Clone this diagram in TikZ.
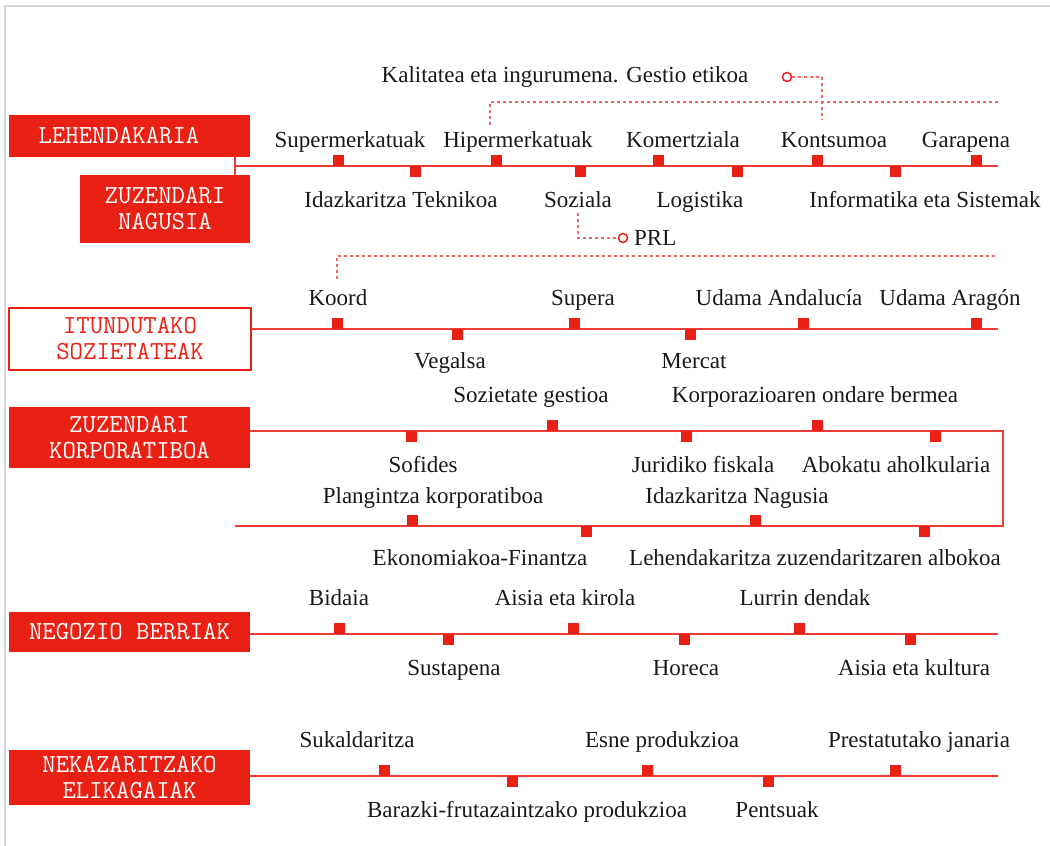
\documentclass[tikz,border=0pt]{standalone}
\usepackage{fontspec}
\newfontfamily\lblfont{Liberation Serif}
\newcommand\boxfont{\ttfamily\fontsize{26}{26}\selectfont}
\definecolor{bred}{RGB}{234,32,20}
\definecolor{bline}{RGB}{240,60,55}
\definecolor{bpink}{RGB}{245,100,100}
\definecolor{bgray}{RGB}{210,214,214}
\tikzset{
  redline/.style={draw=bline, line width=2pt},
  sqtop/.style={fill=bred, minimum width=11pt, minimum height=11pt, inner sep=0pt, anchor=south},
  sqbot/.style={fill=bred, minimum width=11pt, minimum height=11pt, inner sep=0pt, anchor=north},
  lbl/.style={font=\lblfont\fontsize{23}{26}\selectfont, anchor=base, inner sep=0pt, text=black!90},
  boxfill/.style={fill=bred, text=white, font=\boxfont, align=center, inner sep=0pt},
  boxline/.style={draw=bred, line width=1.6pt, fill=white, text=bred, font=\boxfont, align=center, inner sep=0pt},
  dots/.style={draw=bpink, line width=1.6pt, dash pattern=on 3pt off 3pt},
  ring/.style={circle, draw=bred, fill=white, line width=1.5pt, minimum size=9pt, inner sep=0pt},
}
\begin{document}
\begin{tikzpicture}[x=1pt,y=-1pt]
\useasboundingbox (0,0) rectangle (1050,846);
% frame
\draw[bgray, line width=2pt] (5,846) -- (5,6) -- (1050,6);

% ---------------- Row 1
\node[boxfill, minimum width=241pt, minimum height=42pt] (lehen) at (129.5,136) {};
\node[text=white, font=\boxfont, inner sep=0pt] (lehent) at (119,136) {LEHENDAKARIA};
\node[boxfill, minimum width=170pt, minimum height=68pt] (zn) at (165,209) {ZUZENDARI\\NAGUSIA};
\coordinate (j1) at (235,166);
\coordinate (e1) at (998,166);
\draw[redline] (j1 |- lehen.south) -- (j1 |- zn.north);
\draw[redline] (j1) -- (e1);

\node[sqtop] (m1a) at (338,166) {};
\node[sqtop] (m1b) at (496,166) {};
\node[sqtop] (m1c) at (658,166) {};
\node[sqtop] (m1d) at (817,166) {};
\node[sqtop] (m1e) at (976,166) {};
\node[sqbot] (m1f) at (415,166) {};
\node[sqbot] (m1g) at (580,166) {};
\node[sqbot] (m1h) at (737,166) {};
\node[sqbot] (m1i) at (895,166) {};

\node[lbl] (l1a) at (350,147) {Supermerkatuak};
\node[lbl] (l1b) at (518,147) {Hipermerkatuak};
\node[lbl] (l1c) at (683,147) {Komertziala};
\node[lbl] (l1d) at (834,147) {Kontsumoa};
\node[lbl] (l1e) at (966,147) {Garapena};
\node[lbl] (l1f) at (401,207) {Idazkaritza Teknikoa};
\node[lbl] (l1g) at (578,207) {Soziala};
\node[lbl] (l1h) at (700,207) {Logistika};
\node[lbl] (l1i) at (925,207) {Informatika eta Sistemak};

\node[lbl] (kal) at (565,82) {Kalitatea eta ingurumena. Gestio etikoa};
\node[ring] (kring) at (787,77) {};
\coordinate (kend) at (822,120);
\coordinate (d1s) at (490,125);
\coordinate (d1e) at (998,102);
\draw[dots] (d1s) |- (d1e);
\draw[dots] (kring.east) -| (kend);

\coordinate (ps) at (578,213);
\node[ring] (prlring) at (623,238) {};
\node[lbl, anchor=base west] (prl) at (634,245) {PRL};
\draw[dots] (ps) |- (prlring.west);

% ---------------- Row 2
\node[boxline, minimum width=242pt, minimum height=62pt] (itun) at (130,339) {ITUNDUTAKO\\SOZIETATEAK};
\coordinate (e2) at (998,329);
\draw[redline] (itun.east |- e2) -- (e2);
\coordinate (k1) at (337,279);
\coordinate (k2) at (998,256);
\draw[dots] (k1) |- (k2);

\node[sqtop] (m2a) at (337,329) {};
\node[sqtop] (m2b) at (574,329) {};
\node[sqtop] (m2c) at (803,329) {};
\node[sqtop] (m2d) at (976,329) {};
\node[sqbot] (m2e) at (457,329) {};
\node[sqbot] (m2f) at (690,329) {};

\node[lbl] (l2a) at (338,305) {Koord};
\node[lbl] (l2b) at (583,305) {Supera};
\node[lbl] (l2c) at (779,305) {Udama Andalucía};
\node[lbl] (l2d) at (950,305) {Udama Aragón};
\node[lbl] (l2e) at (450,368) {Vegalsa};
\node[lbl] (l2f) at (694,368) {Mercat};

% ---------------- Row 3
\node[boxfill, minimum width=241pt, minimum height=61pt] (zk) at (129.5,437.5) {ZUZENDARI\\KORPORATIBOA};
\coordinate (e3) at (1003,431);
\coordinate (c3) at (1003,526);
\coordinate (s3) at (235,526);
\draw[redline] (zk.east |- e3) -- (e3) -- (c3) -- (s3);

\node[sqtop] (m3a) at (552,431) {};
\node[sqtop] (m3b) at (817,431) {};
\node[sqbot] (m3c) at (411,431) {};
\node[sqbot] (m3d) at (686,431) {};
\node[sqbot] (m3e) at (935,431) {};
\node[sqtop] (m3f) at (412,526) {};
\node[sqtop] (m3g) at (755,526) {};
\node[sqbot] (m3h) at (586,526) {};
\node[sqbot] (m3i) at (924,526) {};

\node[lbl] (l3a) at (531,402) {Sozietate gestioa};
\node[lbl] (l3b) at (815,402) {Korporazioaren ondare bermea};
\node[lbl] (l3c) at (423,472) {Sofides};
\node[lbl] (l3d) at (703,472) {Juridiko fiskala};
\node[lbl] (l3e) at (896,472) {Abokatu aholkularia};
\node[lbl] (l3f) at (433,503) {Plangintza korporatiboa};
\node[lbl] (l3g) at (737,503) {Idazkaritza Nagusia};
\node[lbl] (l3h) at (480,565) {Ekonomiakoa-Finantza};
\node[lbl] (l3i) at (815,565) {Lehendakaritza zuzendaritzaren albokoa};

% ---------------- Row 4
\node[boxfill, minimum width=241pt, minimum height=40pt] (nb) at (129.5,632) {NEGOZIO BERRIAK};
\coordinate (e4) at (998,634);
\draw[redline] (nb.east |- e4) -- (e4);

\node[sqtop] (m4a) at (339,634) {};
\node[sqtop] (m4b) at (573,634) {};
\node[sqtop] (m4c) at (799,634) {};
\node[sqbot] (m4d) at (448,634) {};
\node[sqbot] (m4e) at (684,634) {};
\node[sqbot] (m4f) at (910,634) {};

\node[lbl] (l4a) at (339,605) {Bidaia};
\node[lbl] (l4b) at (565,605) {Aisia eta kirola};
\node[lbl] (l4c) at (805,605) {Lurrin dendak};
\node[lbl] (l4d) at (454,675) {Sustapena};
\node[lbl] (l4e) at (686,675) {Horeca};
\node[lbl] (l4f) at (914,675) {Aisia eta kultura};

% ---------------- Row 5
\node[boxfill, minimum width=241pt, minimum height=55pt] (nek) at (129.5,777.5) {NEKAZARITZAKO\\ELIKAGAIAK};
\coordinate (e5) at (998,776);
\draw[redline] (nek.east |- e5) -- (e5);

\node[sqtop] (m5a) at (384,776) {};
\node[sqtop] (m5b) at (647,776) {};
\node[sqtop] (m5c) at (895,776) {};
\node[sqbot] (m5d) at (512,776) {};
\node[sqbot] (m5e) at (768,776) {};

\node[lbl] (l5a) at (357,747) {Sukaldaritza};
\node[lbl] (l5b) at (662,747) {Esne produkzioa};
\node[lbl] (l5c) at (919,747) {Prestatutako janaria};
\node[lbl] (l5d) at (527,817) {Barazki-frutazaintzako produkzioa};
\node[lbl] (l5e) at (777,817) {Pentsuak};
\end{tikzpicture}
\end{document}
